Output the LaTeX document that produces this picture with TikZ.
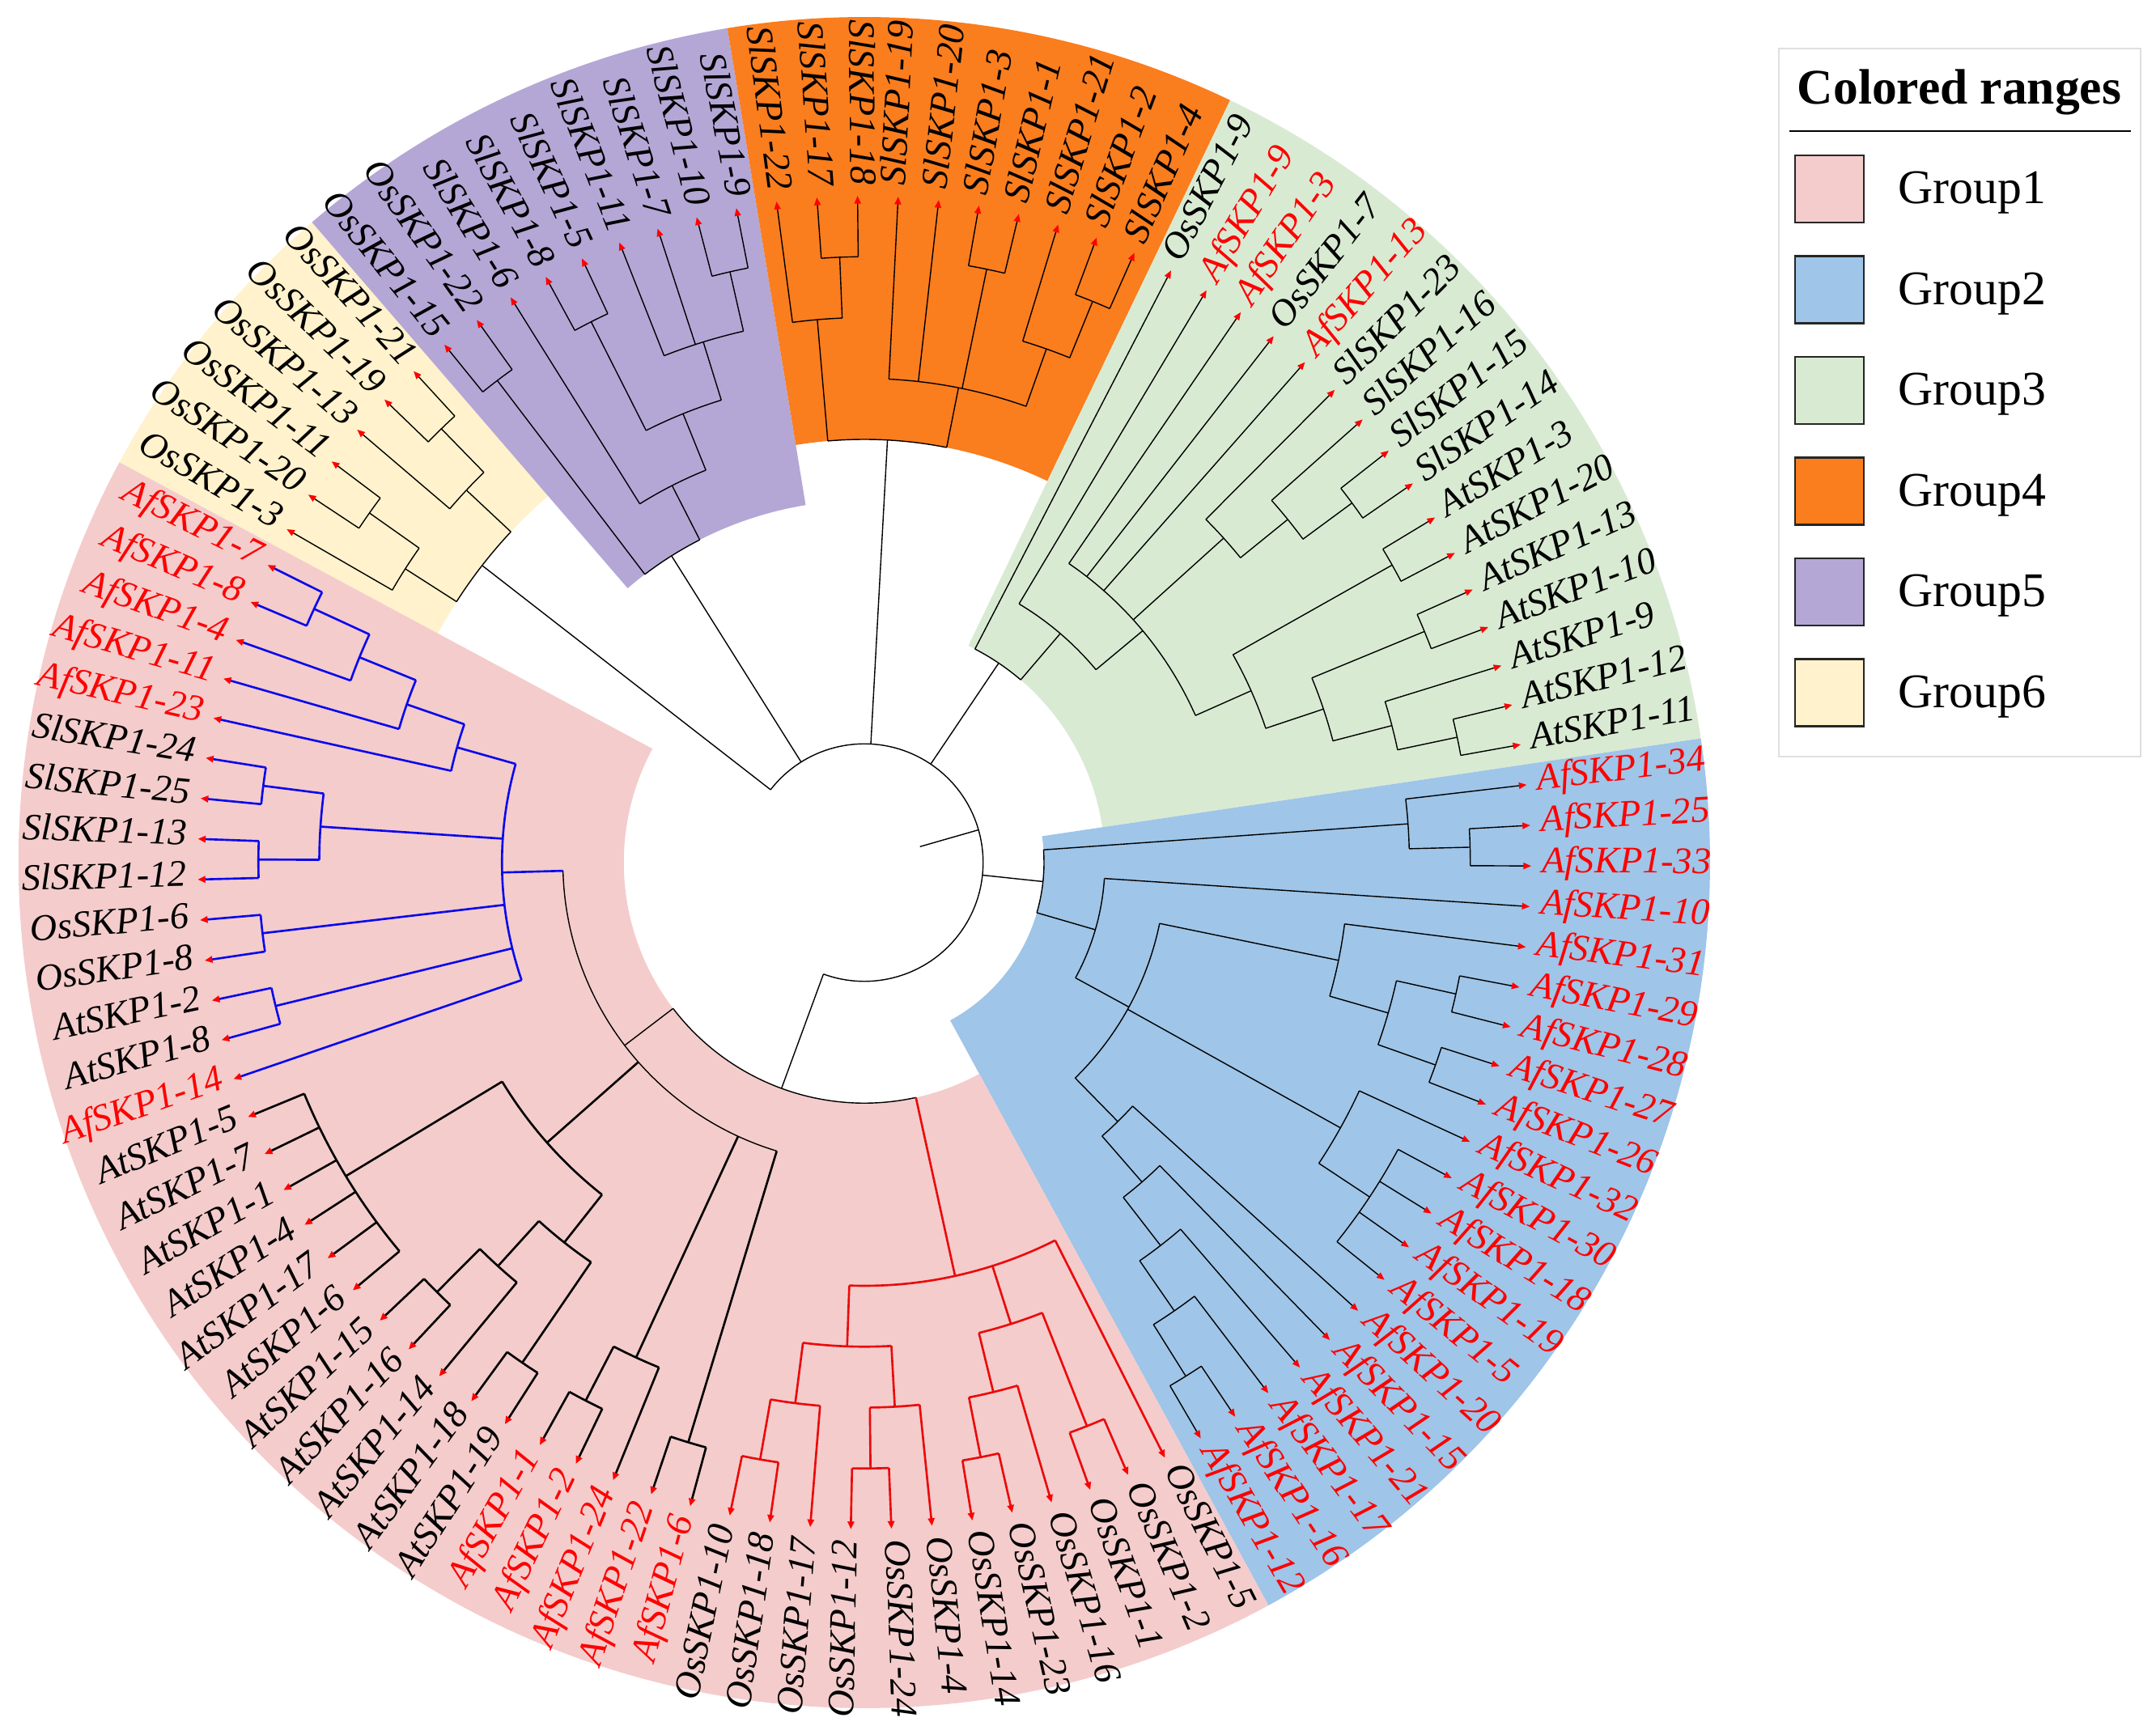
\documentclass[tikz,border=0pt]{standalone}
\usepackage{fontspec}
\setmainfont{Liberation Serif}
\usetikzlibrary{arrows.meta}

\definecolor{gpink}{HTML}{F4CCCC}
\definecolor{gblue}{HTML}{9FC5E8}
\definecolor{ggreen}{HTML}{D9EAD3}
\definecolor{gorange}{HTML}{FA7D1E}
\definecolor{gpurple}{HTML}{B4A7D6}
\definecolor{gyellow}{HTML}{FFF2CC}
\definecolor{treeblue}{RGB}{10,10,235}
\definecolor{treered}{RGB}{235,10,10}

\tikzset{
  branch/.style={line width=0.4pt,black},
  boldbranch/.style={line width=0.75pt,black},
  bluebranch/.style={line width=0.75pt,treeblue},
  redbranch/.style={line width=0.75pt,treered},
  leafarrow/.style={-{Triangle[length=0.95mm,width=0.8mm,color=red]}},
  leaflabel/.style={inner sep=0pt,font=\fontsize{13.2}{15}\selectfont\itshape},
}

\def\R{8.24} % radius of the leaves
\def\dstep{0.7525} % radial step of one level
\def\dang{3.495146} % 360/103, angle between two leaves
\def\rout{10.45} % outer radius of the coloured ranges

% leaf: name, position around the circle, colour of the text
\newcommand\treeleaf[3]{%
  \pgfmathsetmacro\la{150-#2*\dang}%
  \expandafter\xdef\csname ang@#1\endcsname{\la}%
  \expandafter\xdef\csname hgt@#1\endcsname{0}%
  \coordinate (#1) at (\la:\R);
  \pgfmathsetmacro\lr{\R+0.13}%
  \pgfmathparse{cos(\la)}%
  \ifdim\pgfmathresult pt<0pt
    \pgfmathsetmacro\lrot{\la+180}%
    \node[leaflabel,text=#3,anchor=mid east,rotate=\lrot] (#1-l) at (\la:\lr) {#1};
  \else
    \node[leaflabel,text=#3,anchor=mid west,rotate=\la] (#1-l) at (\la:\lr) {#1};
  \fi
}

% clade: [style], name, children (in order round the circle)
\newcommand\treeclade[3][branch]{%
  \gdef\cfirst{}\gdef\chgt{0}%
  \foreach \kid in {#3}{%
    \ifx\cfirst\empty\xdef\cfirst{\csname ang@\kid\endcsname}\fi
    \xdef\clast{\csname ang@\kid\endcsname}%
    \pgfmathparse{max(\chgt,\csname hgt@\kid\endcsname)}\xdef\chgt{\pgfmathresult}%
  }%
  \pgfmathsetmacro\chgt{\chgt+1}%
  \pgfmathsetmacro\crad{\R-\chgt*\dstep}%
  \pgfmathsetmacro\cang{(\cfirst+\clast)/2}%
  \expandafter\xdef\csname ang@#2\endcsname{\cang}%
  \expandafter\xdef\csname hgt@#2\endcsname{\chgt}%
  \expandafter\xdef\csname sty@#2\endcsname{#1}%
  \coordinate (#2) at (\cang:\crad);
  \draw[#1] (\cfirst:\crad) arc[start angle=\cfirst, end angle=\clast, radius=\crad];
  \foreach \kid in {#3}{%
    \edef\ca{\csname ang@\kid\endcsname}%
    \expandafter\ifx\csname sty@\kid\endcsname\relax
      \draw[#1,leafarrow] (\ca:\crad) -- (\kid);
    \else
      \edef\cdraw{\noexpand\draw[\csname sty@\kid\endcsname]}\cdraw (\ca:\crad) -- (\kid);
    \fi
  }%
}

% coloured range: colour, first leaf, last leaf, level of the clade
\newcommand\colrange[4]{%
  \pgfmathsetmacro\ga{150-(#2-0.5)*\dang}%
  \pgfmathsetmacro\gb{150-(#3+0.5)*\dang}%
  \pgfmathsetmacro\gr{\R-#4*\dstep}%
  \fill[#1] (\ga:\gr) arc[start angle=\ga, end angle=\gb, radius=\gr] -- (\gb:\rout)
    arc[start angle=\gb, end angle=\ga, radius=\rout] -- cycle;
}

\begin{document}
\begin{tikzpicture}
\useasboundingbox (-10.68,-10.67) rectangle (15.96,10.66);
\fill[white] (-10.68,-10.67) rectangle (15.96,10.66);

% coloured ranges
\colrange{gyellow}{0}{5}{3}
\colrange{gpurple}{6}{14}{5}
\colrange{gorange}{15}{24}{4}
\colrange{ggreen}{25}{40}{7}
\colrange{gblue}{41}{60}{8}
\colrange{gpink}{61}{102}{7}

% leaves, clockwise from the left
\foreach \nm/\col [count=\j from 0] in {OsSKP1-3/black,OsSKP1-20/black,OsSKP1-11/black,OsSKP1-13/black,OsSKP1-19/black,OsSKP1-21/black,
  OsSKP1-15/black,OsSKP1-22/black,SlSKP1-6/black,SlSKP1-8/black,SlSKP1-5/black,SlSKP1-11/black,SlSKP1-7/black,SlSKP1-10/black,SlSKP1-9/black,
  SlSKP1-22/black,SlSKP1-17/black,SlSKP1-18/black,SlSKP1-19/black,SlSKP1-20/black,SlSKP1-3/black,SlSKP1-1/black,SlSKP1-21/black,SlSKP1-2/black,SlSKP1-4/black,
  OsSKP1-9/black,AfSKP1-9/red,AfSKP1-3/red,OsSKP1-7/black,AfSKP1-13/red,SlSKP1-23/black,SlSKP1-16/black,SlSKP1-15/black,SlSKP1-14/black,
  AtSKP1-3/black,AtSKP1-20/black,AtSKP1-13/black,AtSKP1-10/black,AtSKP1-9/black,AtSKP1-12/black,AtSKP1-11/black,
  AfSKP1-34/red,AfSKP1-25/red,AfSKP1-33/red,AfSKP1-10/red,AfSKP1-31/red,AfSKP1-29/red,AfSKP1-28/red,AfSKP1-27/red,AfSKP1-26/red,AfSKP1-32/red,
  AfSKP1-30/red,AfSKP1-18/red,AfSKP1-19/red,AfSKP1-5/red,AfSKP1-20/red,AfSKP1-15/red,AfSKP1-21/red,AfSKP1-17/red,AfSKP1-16/red,AfSKP1-12/red,
  OsSKP1-5/black,OsSKP1-2/black,OsSKP1-1/black,OsSKP1-16/black,OsSKP1-23/black,OsSKP1-14/black,OsSKP1-4/black,OsSKP1-24/black,OsSKP1-12/black,
  OsSKP1-17/black,OsSKP1-18/black,OsSKP1-10/black,AfSKP1-6/red,AfSKP1-22/red,AfSKP1-24/red,AfSKP1-2/red,AfSKP1-1/red,
  AtSKP1-19/black,AtSKP1-18/black,AtSKP1-14/black,AtSKP1-16/black,AtSKP1-15/black,AtSKP1-6/black,AtSKP1-17/black,AtSKP1-4/black,AtSKP1-1/black,AtSKP1-7/black,AtSKP1-5/black,
  AfSKP1-14/red,AtSKP1-8/black,AtSKP1-2/black,OsSKP1-8/black,OsSKP1-6/black,SlSKP1-12/black,SlSKP1-13/black,SlSKP1-25/black,SlSKP1-24/black,
  AfSKP1-23/red,AfSKP1-11/red,AfSKP1-4/red,AfSKP1-8/red,AfSKP1-7/red}
  {\treeleaf{\nm}{\j}{\col}}

% Group6
\treeclade{Ya}{OsSKP1-20,OsSKP1-11}
\treeclade{Yb}{OsSKP1-3,Ya}
\treeclade{Yc}{OsSKP1-19,OsSKP1-21}
\treeclade{Yd}{OsSKP1-13,Yc}
\treeclade{Y0}{Yb,Yd}
% Group5
\treeclade{Ua}{OsSKP1-15,OsSKP1-22}
\treeclade{Ub}{SlSKP1-8,SlSKP1-5}
\treeclade{Uc}{SlSKP1-10,SlSKP1-9}
\treeclade{Ud}{SlSKP1-11,SlSKP1-7,Uc}
\treeclade{Ue}{Ub,Ud}
\treeclade{Uf}{SlSKP1-6,Ue}
\treeclade{U0}{Ua,Uf}
% Group4
\treeclade{Va}{SlSKP1-17,SlSKP1-18}
\treeclade{Vb}{SlSKP1-22,Va}
\treeclade{Vc}{SlSKP1-3,SlSKP1-1}
\treeclade{Vd}{SlSKP1-2,SlSKP1-4}
\treeclade{Ve}{SlSKP1-21,Vd}
\treeclade{Vf}{SlSKP1-19,SlSKP1-20,Vc,Ve}
\treeclade{V0}{Vb,Vf}
% Group3
\treeclade{Ga}{SlSKP1-15,SlSKP1-14}
\treeclade{Gb}{SlSKP1-16,Ga}
\treeclade{Gc}{SlSKP1-23,Gb}
\treeclade{Gd}{AtSKP1-3,AtSKP1-20}
\treeclade{Ge}{AtSKP1-13,AtSKP1-10}
\treeclade{Gf}{AtSKP1-12,AtSKP1-11}
\treeclade{Gg}{AtSKP1-9,Gf}
\treeclade{Gh}{Ge,Gg}
\treeclade{Gi}{Gd,Gh}
\treeclade{Gj}{AfSKP1-3,OsSKP1-7,AfSKP1-13,Gc,Gi}
\treeclade{Gk}{AfSKP1-9,Gj}
\treeclade{G0}{OsSKP1-9,Gk}
% Group2
\treeclade{Ba}{AfSKP1-25,AfSKP1-33}
\treeclade{Bb}{AfSKP1-34,Ba}
\treeclade{Bc}{AfSKP1-29,AfSKP1-28}
\treeclade{Bd}{AfSKP1-27,AfSKP1-26}
\treeclade{Be}{Bc,Bd}
\treeclade{Bf}{AfSKP1-31,Be}
\treeclade{Bg}{AfSKP1-30,AfSKP1-18,AfSKP1-19,AfSKP1-5}
\treeclade{Bh}{AfSKP1-32,Bg}
\treeclade{Bi}{AfSKP1-16,AfSKP1-12}
\treeclade{Bj}{AfSKP1-17,Bi}
\treeclade{Bk}{AfSKP1-21,Bj}
\treeclade{Bl}{AfSKP1-15,Bk}
\treeclade{Bm}{AfSKP1-20,Bl}
\treeclade{Bn}{Bf,Bh,Bm}
\treeclade{Bo}{AfSKP1-10,Bn}
\treeclade{B0}{Bb,Bo}
% Group1: red part
\treeclade[redbranch]{Ra}{OsSKP1-18,OsSKP1-10}
\treeclade[redbranch]{Rb}{OsSKP1-17,Ra}
\treeclade[redbranch]{Rc}{OsSKP1-24,OsSKP1-12}
\treeclade[redbranch]{Rd}{OsSKP1-4,Rc}
\treeclade[redbranch]{Re}{Rd,Rb}
\treeclade[redbranch]{Rf}{OsSKP1-23,OsSKP1-14}
\treeclade[redbranch]{Rg}{OsSKP1-16,Rf}
\treeclade[redbranch]{Rh}{OsSKP1-2,OsSKP1-1}
\treeclade[redbranch]{Ri}{Rh,Rg}
\treeclade[redbranch]{R0}{OsSKP1-5,Ri,Re}
% Group1: black part
\treeclade[boldbranch]{Ja}{AfSKP1-6,AfSKP1-22}
\treeclade[boldbranch]{Ka}{AfSKP1-2,AfSKP1-1}
\treeclade[boldbranch]{Kb}{AfSKP1-24,Ka}
\treeclade[boldbranch]{Sa}{AtSKP1-19,AtSKP1-18}
\treeclade[boldbranch]{Sb}{AtSKP1-16,AtSKP1-15}
\treeclade[boldbranch]{Sc}{AtSKP1-14,Sb}
\treeclade[boldbranch]{Sd}{Sa,Sc}
\treeclade[boldbranch]{Se}{AtSKP1-6,AtSKP1-17,AtSKP1-4,AtSKP1-1,AtSKP1-7,AtSKP1-5}
\treeclade[boldbranch]{S0}{Sd,Se}
% Group1: blue part
\treeclade[bluebranch]{La}{AtSKP1-8,AtSKP1-2}
\treeclade[bluebranch]{Lb}{OsSKP1-8,OsSKP1-6}
\treeclade[bluebranch]{Lc}{SlSKP1-12,SlSKP1-13}
\treeclade[bluebranch]{Ld}{SlSKP1-25,SlSKP1-24}
\treeclade[bluebranch]{Le}{Lc,Ld}
\treeclade[bluebranch]{Lf}{AfSKP1-8,AfSKP1-7}
\treeclade[bluebranch]{Lg}{AfSKP1-4,Lf}
\treeclade[bluebranch]{Lh}{AfSKP1-11,Lg}
\treeclade[bluebranch]{Li}{AfSKP1-23,Lh}
\treeclade[bluebranch]{L0}{AfSKP1-14,La,Lb,Le,Li}
\treeclade{Q}{Ja,Kb,S0,L0}
\treeclade{P0}{R0,Q}
% root
\treeclade{root}{Y0,U0,V0,G0,B0,P0}
\edef\rootang{\csname ang@root\endcsname}
\coordinate (stem) at (\rootang:0.715);
\draw[branch] (stem) -- (root);

% legend
\draw[gray!25,line width=0.6pt] (11.30,1.31) rectangle (15.77,10.06);
\node[font=\fontsize{17.5}{20}\selectfont\bfseries,anchor=base] (lgtitle) at (13.53,9.37) {Colored ranges};
\draw[line width=0.6pt] (11.43,9.04) -- (15.65,9.04);
\foreach \col [count=\i] in {gpink,gblue,ggreen,gorange,gpurple,gyellow} {
  \pgfmathsetmacro\yc{8.325-(\i-1)*1.245}
  \node[draw=black!85,fill=\col,line width=0.6pt,inner sep=0pt,minimum width=0.85cm,minimum height=0.83cm] (sw\i) at (11.925,\yc) {};
  \node[font=\fontsize{17}{20}\selectfont,anchor=base west,inner sep=0pt] (gl\i) at (12.77,\yc-0.185) {Group\i};
}
\end{tikzpicture}
\end{document}
